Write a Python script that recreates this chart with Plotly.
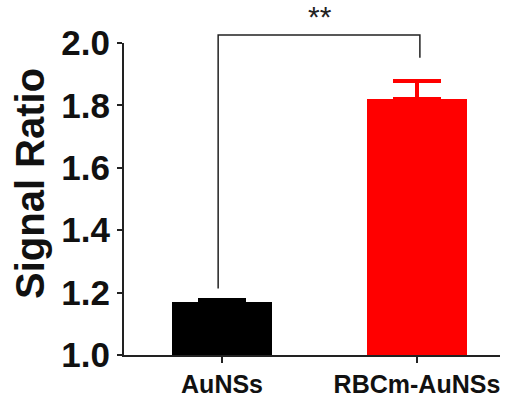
import plotly.graph_objects as go

categories = ["AuNSs", "RBCm-AuNSs"]
values = [1.17, 1.82]
errors = [0.008, 0.058]
colors = ["#000000", "#ff0000"]
y_ticks = [1.0, 1.2, 1.4, 1.6, 1.8, 2.0]
y_tick_labels = ["1.0", "1.2", "1.4", "1.6", "1.8", "2.0"]
significance = "**"

x_pos = list(range(len(categories)))
y_min, y_max = 1.0, 2.0

fig = go.Figure()
for i in x_pos:
    fig.add_trace(go.Bar(
        x=[x_pos[i]], y=[values[i] - y_min], base=y_min,
        width=0.51,
        marker=dict(color=colors[i], line=dict(width=0)),
        error_y=dict(type="data", array=[errors[i]], arrayminus=[0], symmetric=False,
                     color=colors[i], thickness=3.5, width=24, visible=True),
        showlegend=False,
    ))

# significance bracket (paper y = value - y_min since range spans 1 unit)
span = y_max - y_min
top = 1.026
left_bottom = (values[0] + errors[0] - y_min) / span + 0.035
right_bottom = (values[1] + errors[1] - y_min) / span + 0.075
fig.add_shape(type="path",
              path=f"M {x_pos[0]-0.02},{left_bottom} L {x_pos[0]-0.02},{top} L {x_pos[1]+0.015},{top} L {x_pos[1]+0.015},{right_bottom}",
              xref="x", yref="paper", line=dict(color="#222222", width=1.5))
fig.add_annotation(x=(x_pos[0] + x_pos[1]) / 2, y=1.085, xref="x", yref="paper",
                   text=significance, showarrow=False, yanchor="middle", xanchor="center",
                   font=dict(family="Arial, Liberation Sans", size=30, color="#222222"))

fig.add_annotation(x=-0.25, y=0.548, xref="paper", yref="paper", textangle=-90,
                   xanchor="center", yanchor="middle",
                   text="<b>Signal Ratio</b>", showarrow=False,
                   font=dict(family="Arial, Liberation Sans", size=40, color="#111111"))

fig.update_layout(
    width=508, height=405,
    margin=dict(l=124, r=8, t=43, b=50),
    plot_bgcolor="white", paper_bgcolor="white",
    bargap=0,
    xaxis=dict(range=[-0.503, 1.426], tickvals=x_pos, ticktext=[f"<b>{c}</b>" for c in categories],
               showline=True, linecolor="#222222", linewidth=2, ticks="outside",
               ticklen=6, tickwidth=2, tickcolor="#222222", showgrid=False, zeroline=False,
               automargin=False,
               tickfont=dict(family="Arial, Liberation Sans", size=25, color="#111111")),
    yaxis=dict(range=[y_min, y_max], tickvals=y_ticks, ticktext=[f"<b>{t}</b>" for t in y_tick_labels],
               showline=True, linecolor="#222222", linewidth=2, ticks="outside",
               ticklen=5, tickwidth=2, tickcolor="#222222", showgrid=False, zeroline=False,
               automargin=False,
               tickfont=dict(family="Arial, Liberation Sans", size=35, color="#111111")),
)

# remove the page's default 8px body margin so the figure sits at the window's corner
fig.write_html("out.html", config={"displayModeBar": False},
               post_script="document.body.style.margin='0';document.body.style.overflow='hidden';")
